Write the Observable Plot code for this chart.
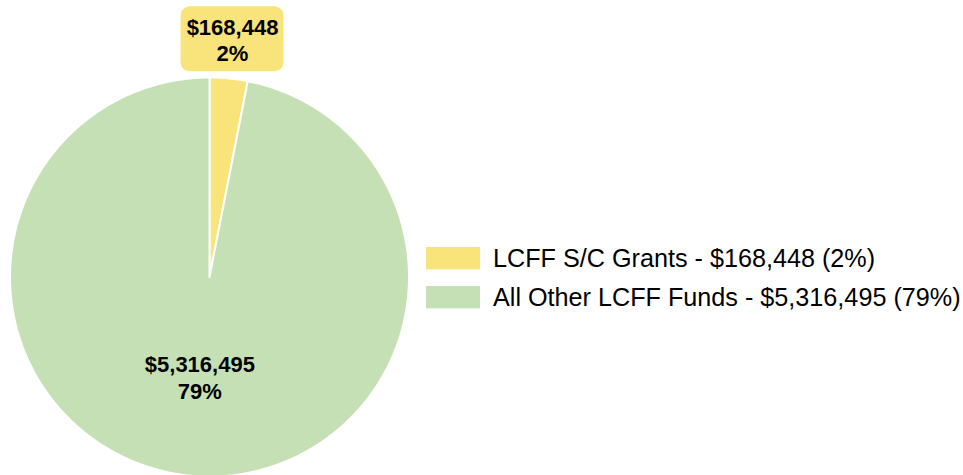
<!DOCTYPE html>
<html><head><meta charset="utf-8">
<script src="https://cdn.jsdelivr.net/npm/d3@7"></script>
<script src="https://cdn.jsdelivr.net/npm/@observablehq/plot@0.6"></script>
<style>
html,body{margin:0;padding:0;background:#fff;}
#chart{position:relative;width:963px;height:475px;overflow:hidden;font-family:"Liberation Sans",Arial,Helvetica,sans-serif;}
#legend{position:absolute;left:426px;top:239px;}
.lg-swatches{font-family:"Liberation Sans",Arial,Helvetica,sans-serif;font-size:25.2px;color:#000;margin:0;}
.lg-swatch{height:39px;padding:0;}
.lg-swatch > svg{margin-right:13px;}
.lg-swatch-label{overflow:visible;}
</style></head><body>
<div id="chart"><div id="plot"></div><div id="legend"></div></div>
<script>
// ---- data ----
const names = ["LCFF S/C Grants", "All Other LCFF Funds"];
const values = [168448, 5316495];
const percentLabels = ["2%", "79%"];
const colors = ["#f9e47b", "#c5e0b4"];

// ---- derived geometry ----
const fmt = d3.format("$,");
const total = d3.sum(values);
let acc = 0;
const slices = names.map((name, i) => {
  const a0 = acc / total * 2 * Math.PI;
  acc += values[i];
  const a1 = acc / total * 2 * Math.PI;
  return {name, value: values[i], pct: percentLabels[i], a0, a1, frac: values[i] / total};
});
const step = Math.PI / 360;
const outline = slices.flatMap(s => {
  const n = Math.max(2, Math.ceil((s.a1 - s.a0) / step));
  const pts = [{name: s.name, x: 0, y: 0}];
  for (let k = 0; k <= n; k++) {
    const a = s.a0 + (s.a1 - s.a0) * k / n;
    pts.push({name: s.name, x: Math.sin(a), y: Math.cos(a)});
  }
  pts.push({name: s.name, x: 0, y: 0});
  return pts;
});
const labels = slices.map(s => {
  const outside = s.frac < 0.05;
  const r = outside ? 1.197 : 0.502;
  const m = (s.a0 + s.a1) / 2;
  return {name: s.name, outside, x: r * Math.sin(m), y: r * Math.cos(m),
          text: fmt(s.value) + "\n" + s.pct};
});

const plot = Plot.plot({
  width: 963,
  height: 475,
  margin: 0,
  x: {domain: [-1, 1], range: [9.5, 408.5], axis: null},
  y: {domain: [-1, 1], range: [476, 77], axis: null},
  color: {domain: names, range: colors},
  style: {fontFamily: '"Liberation Sans", Arial, Helvetica, sans-serif', background: "white"},
  marks: [
    Plot.line(outline, {x: "x", y: "y", z: "name", fill: "name", stroke: "white", strokeWidth: 2, strokeLinejoin: "miter"}),
    Plot.rect(labels.filter(d => d.outside), {x1: "x", x2: "x", y1: "y", y2: "y", fill: "name",
      insetLeft: -51.5, insetRight: -51.5, insetTop: -32.5, insetBottom: -32.5, rx: 9}),
    Plot.text(labels, {x: "x", y: "y", text: "text", fontSize: 22, fontWeight: "bold", fill: "black",
      lineHeight: 1.21, textAnchor: "middle", lineAnchor: "middle"})
  ]
});
document.getElementById("plot").appendChild(plot);

const legend = Plot.legend({
  color: {domain: names, range: colors},
  legend: "swatches",
  columns: 1,
  swatchWidth: 54,
  swatchHeight: 22.4,
  className: "lg",
  tickFormat: n => {
    const i = names.indexOf(n);
    return `${n} - ${fmt(values[i])} (${percentLabels[i]})`;
  }
});
document.getElementById("legend").appendChild(legend);
</script>
</body></html>
